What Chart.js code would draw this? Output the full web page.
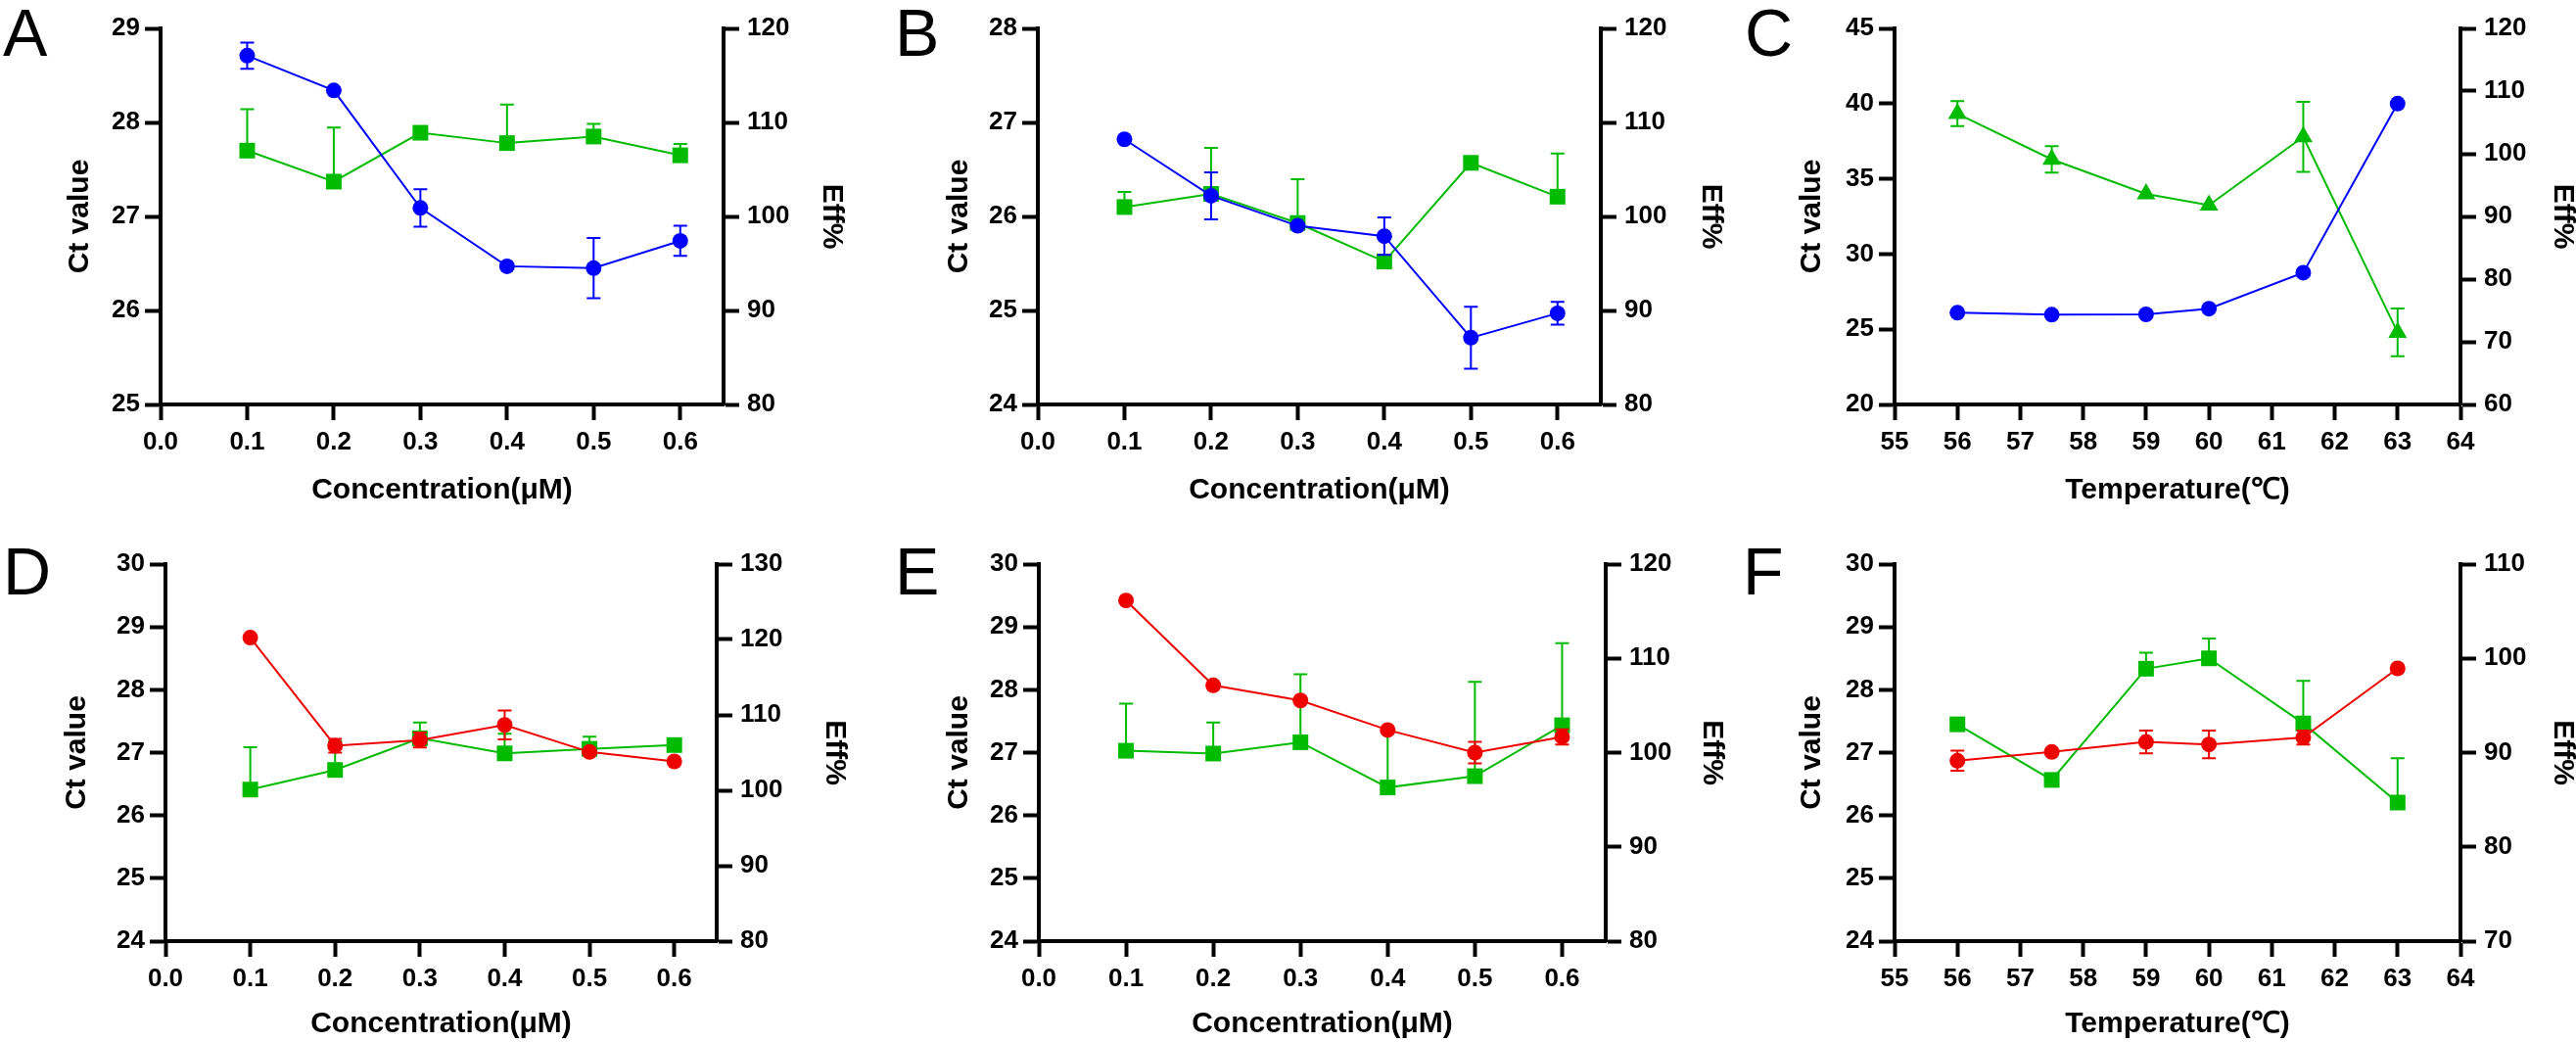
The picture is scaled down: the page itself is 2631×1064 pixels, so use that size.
<!DOCTYPE html>
<html>
<head>
<meta charset="utf-8">
<script src="https://cdn.jsdelivr.net/npm/chart.js@4.4.1/dist/chart.umd.min.js"></script>
<style>
  html, body { margin: 0; padding: 0; background: #fff; overflow: hidden; }
  #wrap { position: relative; width: 2631px; height: 1064px; }
  canvas { position: absolute; }
</style>
</head>
<body>
<div id="wrap"></div>
<script>
// x positions
const concX = [0.1, 0.2, 0.3, 0.4, 0.5, 0.6];
const tempX = [56, 57.5, 59, 60, 61.5, 63];
const concTicks = [0, 0.1, 0.2, 0.3, 0.4, 0.5, 0.6];
const tempTicks = [55, 56, 57, 58, 59, 60, 61, 62, 63, 64];

// A
const aCt = [28.71, 28.34, 27.09, 26.47, 26.45, 26.74];
const aCtErr = [0.14, 0, 0.2, 0, 0.32, 0.16];
const aEff = [107.0, 103.7, 108.9, 107.8, 108.5, 106.5];
const aEffErr = [4.4, 5.75, 0, 4.1, 1.35, 1.2];
// B
const bCt = [26.82, 26.22, 25.9, 25.79, 24.71, 24.97];
const bCtErr = [0, 0.25, 0, 0.2, 0.33, 0.12];
const bEff = [101.0, 102.4, 99.3, 95.2, 105.7, 102.1];
const bEffErr = [1.6, 4.9, 4.65, 0, 0, 4.6];
// C
const cCt = [26.1, 25.97, 25.99, 26.37, 28.76, 40.0];
const cCtErr = [0, 0, 0, 0, 0, 0];
const cEff = [106.4, 99.1, 93.6, 91.8, 102.7, 71.5];
const cEffErr = [2.0, 2.1, 0, 0, 5.6, 3.8];
// D
const dCt = [28.83, 27.11, 27.2, 27.44, 27.01, 26.86];
const dCtErr = [0, 0.11, 0.12, 0.23, 0, 0];
const dEff = [100.1, 102.7, 106.9, 104.9, 105.5, 106.0];
const dEffErr = [5.6, 3.8, 2.1, 2.6, 1.6, 0];
// E
const eCt = [29.42, 28.07, 27.83, 27.36, 27.0, 27.25];
const eCtErr = [0, 0, 0, 0, 0.17, 0.12];
const eEff = [100.2, 99.9, 101.1, 96.3, 97.5, 102.9];
const eEffErr = [5.0, 3.3, 7.2, 5.9, 10.0, 8.7];
// F
const fCt = [26.87, 27.01, 27.17, 27.13, 27.24, 28.34];
const fCtErr = [0.16, 0, 0.18, 0.22, 0.11, 0];
const fEff = [93.0, 87.1, 98.9, 100.0, 93.1, 84.7];
const fEffErr = [0, 0, 1.7, 2.1, 4.5, 4.7];

// axis ticks
const ctTicksA = [25, 26, 27, 28, 29];
const ctTicksB = [24, 25, 26, 27, 28];
const ctTicksC = [20, 25, 30, 35, 40, 45];
const ctTicks2 = [24, 25, 26, 27, 28, 29, 30];
const effTicksA = [80, 90, 100, 110, 120];
const effTicksC = [60, 70, 80, 90, 100, 110, 120];
const effTicksD = [80, 90, 100, 110, 120, 130];
const effTicksF = [70, 80, 90, 100, 110];

const BLUE = "#0000ff";
const RED = "#ee0000";
const GREEN = "#00bb00";
const FONT = "'Liberation Sans', Arial, sans-serif";

// error bars drawn under each dataset's own line and points
const errorBars = {
  id: "errorBars",
  beforeDatasetDraw(chart, args) {
    const ds = chart.data.datasets[args.index];
    if (!ds.err) return;
    const meta = args.meta;
    const yScale = chart.scales[meta.yAxisID];
    const ctx = chart.ctx;
    ctx.save();
    ctx.strokeStyle = ds.borderColor;
    ctx.lineWidth = 2;
    meta.data.forEach((pt, i) => {
      const e = ds.err[i];
      if (!e) return;
      const v = ds.data[i].y;
      const yTop = yScale.getPixelForValue(v + e);
      const yBot = ds.errBoth ? yScale.getPixelForValue(v - e) : pt.y;
      ctx.beginPath();
      ctx.moveTo(pt.x, yTop);
      ctx.lineTo(pt.x, yBot);
      ctx.moveTo(pt.x - 7, yTop);
      ctx.lineTo(pt.x + 7, yTop);
      if (ds.errBoth) {
        ctx.moveTo(pt.x - 7, yBot);
        ctx.lineTo(pt.x + 7, yBot);
      }
      ctx.stroke();
    });
    ctx.restore();
  }
};

// big panel letter
const panelLetter = {
  id: "panelLetter",
  afterDraw(chart, args, opts) {
    const ctx = chart.ctx;
    ctx.save();
    ctx.fillStyle = "#000";
    ctx.font = "68px " + FONT;
    ctx.textBaseline = "alphabetic";
    ctx.fillText(opts.text, opts.x, opts.y);
    ctx.restore();
  }
};

function pts(xs, ys) {
  return xs.map((x, i) => ({ x: x, y: ys[i] }));
}

function axisCommon(ticks, fmt) {
  return {
    grid: { drawOnChartArea: false, drawTicks: true, tickLength: 16, tickWidth: 4, tickColor: "#000" },
    border: { display: true, color: "#000", width: 4 },
    ticks: {
      color: "#000",
      font: { family: FONT, size: 26, weight: "bold" },
      autoSkip: false,
      maxRotation: 0,
      callback: fmt
    },
    afterBuildTicks: s => { s.ticks = ticks.map(v => ({ value: v })); }
  };
}

function makePanel(p) {
  const W = 900, H = 532;
  const cv = document.createElement("canvas");
  cv.width = W;
  cv.height = H;
  cv.style.left = p.left + "px";
  cv.style.top = p.top + "px";
  cv.style.width = W + "px";
  cv.style.height = H + "px";
  document.getElementById("wrap").appendChild(cv);

  const padL = p.yTitleX - 18;
  const padR = W - (p.y2TitleX + 18);
  const padB = Math.max(0, H - (p.xTitleY + 18));
  const leftW = p.areaL - padL;
  const rightW = p.y2TitleX + 18 - p.areaR;
  const xH = H - padB - p.areaB;

  const x = axisCommon(p.xTicks, p.xFmt);
  Object.assign(x, {
    type: "linear", position: "bottom", min: p.xMin, max: p.xMax,
    afterFit: s => { s.height = xH; },
    title: { display: true, text: p.xTitle, color: "#000", padding: 0,
             font: { family: FONT, size: 30, weight: "bold" } }
  });
  x.ticks.padding = 7;

  const y = axisCommon(p.ctTicks, v => String(v));
  Object.assign(y, {
    type: "linear", position: "left", min: p.ctTicks[0], max: p.ctTicks[p.ctTicks.length - 1],
    afterFit: s => { s.width = leftW; },
    title: { display: true, text: "Ct value", color: "#000", padding: 0,
             font: { family: FONT, size: 30, weight: "bold" } }
  });
  y.ticks.padding = 5;

  const y2 = axisCommon(p.effTicks, v => String(v));
  Object.assign(y2, {
    type: "linear", position: "right", min: p.effTicks[0], max: p.effTicks[p.effTicks.length - 1],
    afterFit: s => { s.width = rightW; },
    title: { display: true, text: "Eff%", color: "#000", padding: 0,
             font: { family: FONT, size: 30, weight: "bold" } }
  });
  y2.ticks.padding = 8;

  new Chart(cv.getContext("2d"), {
    type: "line",
    data: {
      datasets: [
        {
          data: pts(p.xs, p.ct), err: p.ctErr, errBoth: true, yAxisID: "y",
          borderColor: p.ctColor, backgroundColor: p.ctColor, borderWidth: 2,
          pointStyle: "circle", pointRadius: 8, pointBorderWidth: 0, tension: 0
        },
        {
          data: pts(p.xs, p.eff), err: p.effErr, errBoth: p.effBoth, yAxisID: "y2",
          borderColor: GREEN, backgroundColor: GREEN, borderWidth: 2,
          pointStyle: p.effStyle, pointRadius: p.effStyle === "triangle" ? 11 : 11.3,
          pointBorderWidth: 0, tension: 0
        }
      ]
    },
    options: {
      responsive: false,
      animation: false,
      devicePixelRatio: 1,
      layout: { padding: { left: padL, right: padR, top: p.areaT, bottom: padB } },
      scales: { x: x, y: y, y2: y2 },
      plugins: {
        legend: { display: false },
        tooltip: { enabled: false },
        panelLetter: { text: p.letter, x: p.lx, y: p.ly }
      }
    },
    plugins: [errorBars, panelLetter]
  });
}

const conc = { xs: concX, xTicks: concTicks, xMin: 0, xMax: 0.65, xFmt: v => v.toFixed(1), xTitle: "Concentration(\u03bcM)" };
const temp = { xs: tempX, xTicks: tempTicks, xMin: 55, xMax: 64, xFmt: v => String(v), xTitle: "Temperature(\u2103)" };

makePanel(Object.assign({}, conc, {
  letter: "A", left: 0, top: 0, lx: 3, ly: 57,
  areaL: 164, areaR: 739, areaT: 29, areaB: 413, yTitleX: 82, y2TitleX: 849, xTitleY: 501,
  ct: aCt, ctErr: aCtErr, eff: aEff, effErr: aEffErr, effBoth: false, effStyle: "rect",
  ctColor: BLUE, ctTicks: ctTicksA, effTicks: effTicksA
}));
makePanel(Object.assign({}, conc, {
  letter: "B", left: 877, top: 0, lx: 37, ly: 57,
  areaL: 183, areaR: 758, areaT: 29, areaB: 413, yTitleX: 103, y2TitleX: 870, xTitleY: 501,
  ct: bCt, ctErr: bCtErr, eff: bEff, effErr: bEffErr, effBoth: false, effStyle: "rect",
  ctColor: BLUE, ctTicks: ctTicksB, effTicks: effTicksA
}));
makePanel(Object.assign({}, temp, {
  letter: "C", left: 1754, top: 0, lx: 28, ly: 57,
  areaL: 181, areaR: 759, areaT: 29, areaB: 413, yTitleX: 97, y2TitleX: 863, xTitleY: 501,
  ct: cCt, ctErr: cCtErr, eff: cEff, effErr: cEffErr, effBoth: true, effStyle: "triangle",
  ctColor: BLUE, ctTicks: ctTicksC, effTicks: effTicksC
}));
makePanel(Object.assign({}, conc, {
  letter: "D", left: 0, top: 532, lx: 3, ly: 75,
  areaL: 169, areaR: 732, areaT: 44, areaB: 429, yTitleX: 79, y2TitleX: 852, xTitleY: 515,
  ct: dCt, ctErr: dCtErr, eff: dEff, effErr: dEffErr, effBoth: false, effStyle: "rect",
  ctColor: RED, ctTicks: ctTicks2, effTicks: effTicksD
}));
makePanel(Object.assign({}, conc, {
  letter: "E", left: 877, top: 532, lx: 37, ly: 75,
  areaL: 184, areaR: 763, areaT: 44, areaB: 429, yTitleX: 103, y2TitleX: 871, xTitleY: 515,
  ct: eCt, ctErr: eCtErr, eff: eEff, effErr: eEffErr, effBoth: false, effStyle: "rect",
  ctColor: RED, ctTicks: ctTicks2, effTicks: effTicksA
}));
makePanel(Object.assign({}, temp, {
  letter: "F", left: 1754, top: 532, lx: 26, ly: 75,
  areaL: 181, areaR: 759, areaT: 44, areaB: 429, yTitleX: 97, y2TitleX: 863, xTitleY: 515,
  ct: fCt, ctErr: fCtErr, eff: fEff, effErr: fEffErr, effBoth: false, effStyle: "rect",
  ctColor: RED, ctTicks: ctTicks2, effTicks: effTicksF
}));
</script>
</body>
</html>
